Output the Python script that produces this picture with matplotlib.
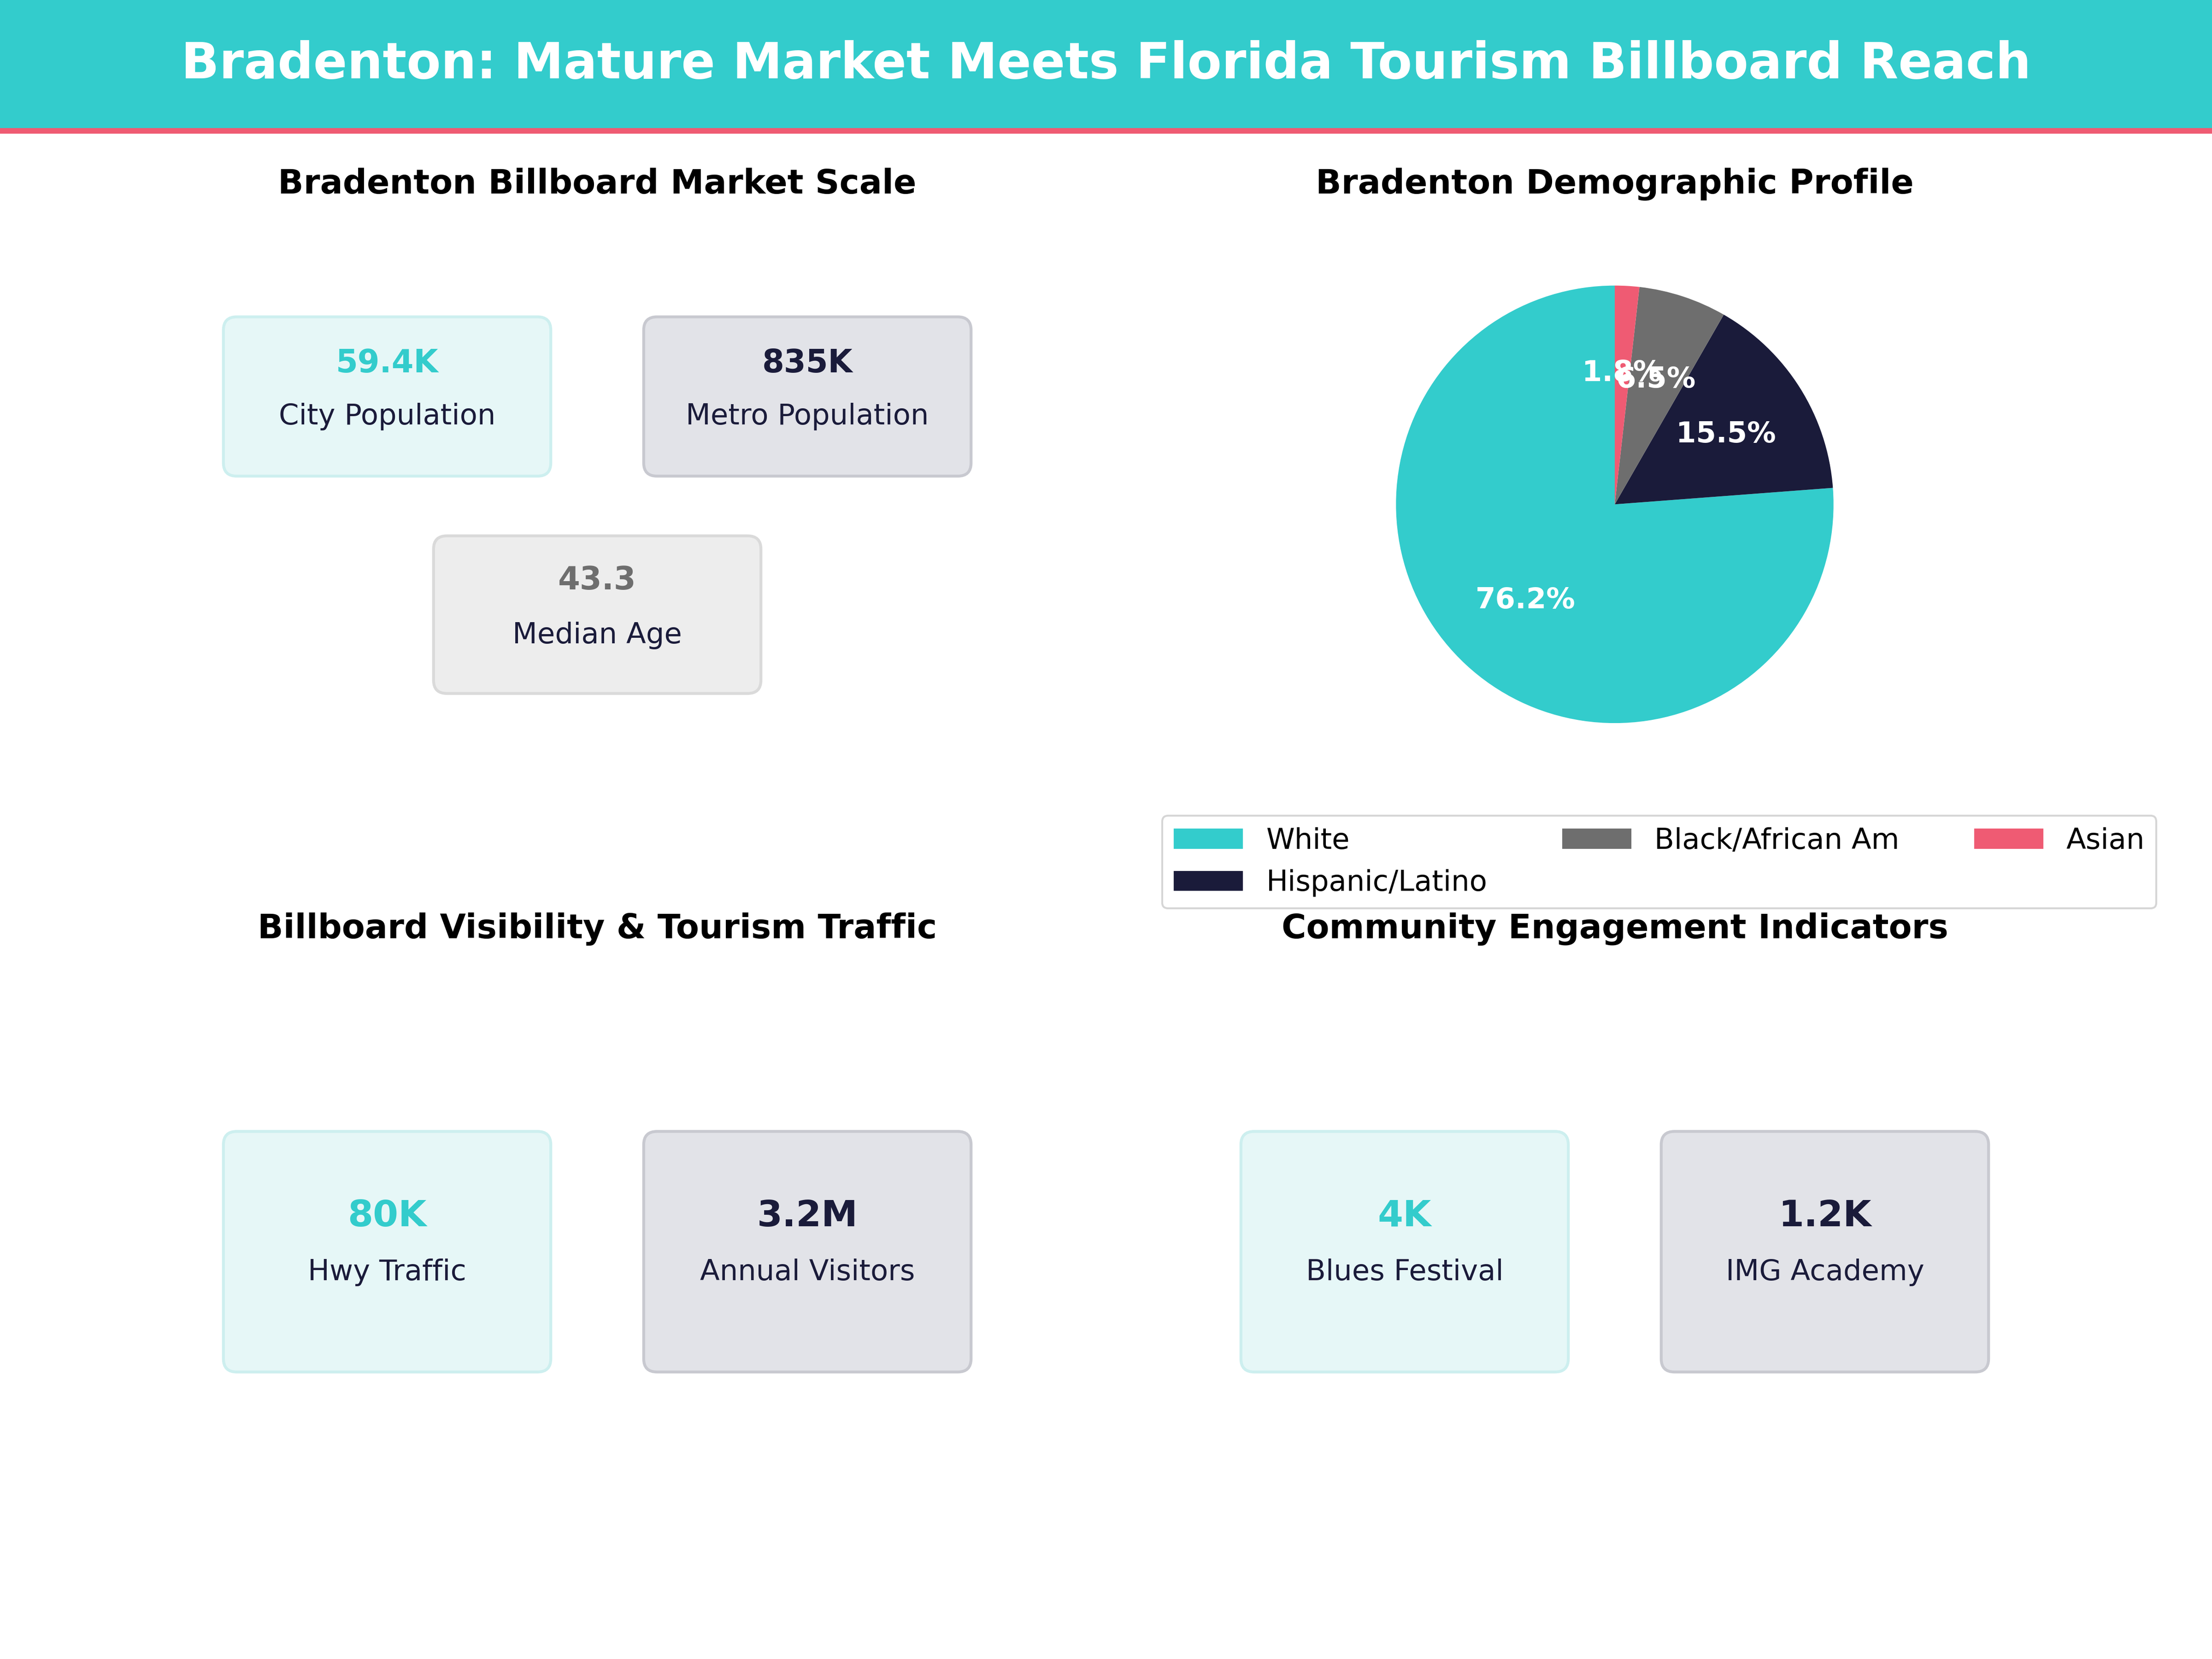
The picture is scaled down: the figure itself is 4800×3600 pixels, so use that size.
import matplotlib
matplotlib.use("Agg")
import matplotlib.pyplot as plt
from matplotlib.patches import FancyBboxPatch, Rectangle

TEAL = "#33CCCC"; NAVY = "#1A1B3A"; GRAY = "#6E6E6E"; RED = "#EF5B73"

title = "Bradenton: Mature Market Meets Florida Tourism Billboard Reach"
panel_titles = ["Bradenton Billboard Market Scale", "Bradenton Demographic Profile",
                "Billboard Visibility & Tourism Traffic", "Community Engagement Indicators"]

scale_values = ["59.4K", "835K", "43.3"]
scale_labels = ["City Population", "Metro Population", "Median Age"]
traffic_values = ["80K", "3.2M"]
traffic_labels = ["Hwy Traffic", "Annual Visitors"]
community_values = ["4K", "1.2K"]
community_labels = ["Blues Festival", "IMG Academy"]

demo_labels = ["White", "Hispanic/Latino", "Black/African Am", "Asian"]
demo_values = [76.2, 15.5, 6.5, 1.8]
demo_colors = [TEAL, NAVY, GRAY, RED]

fig = plt.figure(figsize=(16, 12), dpi=300)
ov = fig.add_axes([0, 0, 1, 1]); ov.set_xlim(0, 1); ov.set_ylim(0, 1); ov.axis("off")

ov.add_patch(Rectangle((0, 0.922), 1, 0.078, color=TEAL, zorder=1))
ov.add_patch(Rectangle((0, 0.920), 1, 0.0022, color=RED, zorder=2))
ov.text(0.5, 0.961, title, ha="center", va="center", color="white", fontsize=26, fontweight="bold")

for (x, y, t) in [(0.270, 0.889, panel_titles[0]), (0.730, 0.889, panel_titles[1]),
                  (0.270, 0.440, panel_titles[2]), (0.730, 0.440, panel_titles[3])]:
    ov.text(x, y, t, ha="center", va="center", fontsize=17.5, fontweight="bold")

styles = {"teal": ("#E6F7F7", "#CDEFEF", TEAL), "navy": ("#E2E3E8", "#C8C9D0", NAVY),
          "gray": ("#EDEDED", "#DADADA", GRAY)}

def card(x0, x1, y0, y1, val, lab, style, vy, ly, vfs):
    face, edge, vc = styles[style]
    ov.add_patch(FancyBboxPatch((x0, y0), x1 - x0, y1 - y0,
                                boxstyle="round,pad=0,rounding_size=0.006",
                                fc=face, ec=edge, lw=1.5, mutation_aspect=4/3))
    ov.text((x0 + x1) / 2, vy, val, ha="center", va="center", fontsize=vfs,
            fontweight="bold", color=vc)
    ov.text((x0 + x1) / 2, ly, lab, ha="center", va="center", fontsize=15, color=NAVY)

card(0.101, 0.249, 0.713, 0.809, scale_values[0], scale_labels[0], "teal", 0.781, 0.749, 16.5)
card(0.291, 0.439, 0.713, 0.809, scale_values[1], scale_labels[1], "navy", 0.781, 0.749, 16.5)
card(0.196, 0.344, 0.582, 0.677, scale_values[2], scale_labels[2], "gray", 0.650, 0.617, 16.5)
card(0.101, 0.249, 0.173, 0.318, traffic_values[0], traffic_labels[0], "teal", 0.267, 0.233, 19)
card(0.291, 0.439, 0.173, 0.318, traffic_values[1], traffic_labels[1], "navy", 0.267, 0.233, 19)
card(0.561, 0.709, 0.173, 0.318, community_values[0], community_labels[0], "teal", 0.267, 0.233, 19)
card(0.751, 0.899, 0.173, 0.318, community_values[1], community_labels[1], "navy", 0.267, 0.233, 19)

r = 0.0989 * 1.0
pax = fig.add_axes([0.730 - r, 0.696 - r * 4 / 3, 2 * r, 2 * r * 4 / 3])
wedges, _, autotexts = pax.pie(demo_values, colors=demo_colors, startangle=90,
                               autopct="%1.1f%%", pctdistance=0.6, radius=1.0,
                               textprops=dict(color="white", fontsize=15, fontweight="bold"))
pax.set_xlim(-1.0, 1.0); pax.set_ylim(-1.0, 1.0)
pax.set_aspect("equal")
fig.legend(wedges, demo_labels, ncol=3, loc="upper left", bbox_to_anchor=(0.519, 0.517),
           fontsize=15, frameon=True, edgecolor="#CCCCCC", fancybox=True,
           columnspacing=2.6, handlelength=2.4)

fig.savefig("out.png", dpi=300, facecolor="white")
